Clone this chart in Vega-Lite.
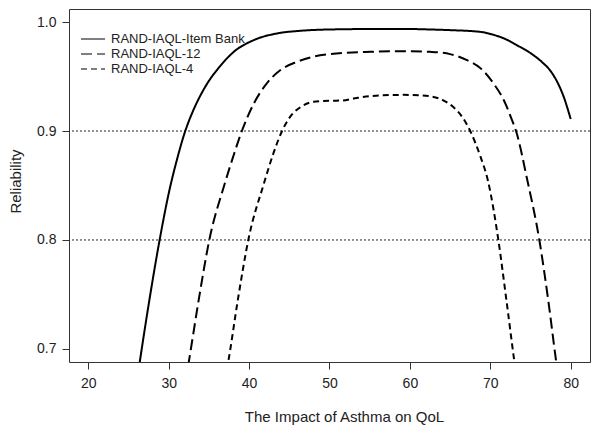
{
  "$schema": "https://vega.github.io/schema/vega-lite/v6.json",
  "width": 521,
  "height": 353,
  "autosize": {"type": "none"},
  "padding": {"left": 69, "top": 9, "right": 10, "bottom": 71},
  "background": "white",
  "config": {
    "view": {"stroke": "#333", "strokeWidth": 1},
    "font": "Liberation Sans",
    "axis": {"grid": false, "domain": false, "tickColor": "#333", "tickSize": 7, "labelFont": "Liberation Sans", "labelFontSize": 14, "labelColor": "#222", "titleFont": "Liberation Sans", "titleFontSize": 15, "titleFontWeight": "normal", "titleColor": "#222"}
  },
  "datasets": {
    "refs": [{"r": 0.8}, {"r": 0.9}],
    "curves": [
      {"series": "RAND-IAQL-Item Bank", "x": 26.0, "y": 0.668},
      {"series": "RAND-IAQL-Item Bank", "x": 26.4, "y": 0.688},
      {"series": "RAND-IAQL-Item Bank", "x": 27.6, "y": 0.745},
      {"series": "RAND-IAQL-Item Bank", "x": 28.87, "y": 0.8},
      {"series": "RAND-IAQL-Item Bank", "x": 30.1, "y": 0.846},
      {"series": "RAND-IAQL-Item Bank", "x": 31.0, "y": 0.873},
      {"series": "RAND-IAQL-Item Bank", "x": 32.06, "y": 0.9},
      {"series": "RAND-IAQL-Item Bank", "x": 33.0, "y": 0.918},
      {"series": "RAND-IAQL-Item Bank", "x": 33.9, "y": 0.932},
      {"series": "RAND-IAQL-Item Bank", "x": 35.0, "y": 0.946},
      {"series": "RAND-IAQL-Item Bank", "x": 36.0, "y": 0.956},
      {"series": "RAND-IAQL-Item Bank", "x": 38.1, "y": 0.9727},
      {"series": "RAND-IAQL-Item Bank", "x": 40.6, "y": 0.9835},
      {"series": "RAND-IAQL-Item Bank", "x": 43.5, "y": 0.9896},
      {"series": "RAND-IAQL-Item Bank", "x": 46.4, "y": 0.992},
      {"series": "RAND-IAQL-Item Bank", "x": 50.0, "y": 0.9932},
      {"series": "RAND-IAQL-Item Bank", "x": 55.0, "y": 0.9936},
      {"series": "RAND-IAQL-Item Bank", "x": 60.0, "y": 0.9936},
      {"series": "RAND-IAQL-Item Bank", "x": 62.5, "y": 0.9932},
      {"series": "RAND-IAQL-Item Bank", "x": 65.0, "y": 0.9926},
      {"series": "RAND-IAQL-Item Bank", "x": 68.8, "y": 0.991},
      {"series": "RAND-IAQL-Item Bank", "x": 70.3, "y": 0.9885},
      {"series": "RAND-IAQL-Item Bank", "x": 71.7, "y": 0.985},
      {"series": "RAND-IAQL-Item Bank", "x": 73.5, "y": 0.978},
      {"series": "RAND-IAQL-Item Bank", "x": 75.2, "y": 0.9705},
      {"series": "RAND-IAQL-Item Bank", "x": 76.4, "y": 0.9635},
      {"series": "RAND-IAQL-Item Bank", "x": 77.5, "y": 0.955},
      {"series": "RAND-IAQL-Item Bank", "x": 78.4, "y": 0.944},
      {"series": "RAND-IAQL-Item Bank", "x": 79.1, "y": 0.932},
      {"series": "RAND-IAQL-Item Bank", "x": 80.0, "y": 0.911},
      {"series": "RAND-IAQL-12", "x": 32.1, "y": 0.67},
      {"series": "RAND-IAQL-12", "x": 32.5, "y": 0.688},
      {"series": "RAND-IAQL-12", "x": 33.8, "y": 0.748},
      {"series": "RAND-IAQL-12", "x": 35.05, "y": 0.8},
      {"series": "RAND-IAQL-12", "x": 36.9, "y": 0.85},
      {"series": "RAND-IAQL-12", "x": 38.0, "y": 0.876},
      {"series": "RAND-IAQL-12", "x": 39.1, "y": 0.9},
      {"series": "RAND-IAQL-12", "x": 40.6, "y": 0.9254},
      {"series": "RAND-IAQL-12", "x": 42.2, "y": 0.9437},
      {"series": "RAND-IAQL-12", "x": 43.9, "y": 0.956},
      {"series": "RAND-IAQL-12", "x": 46.0, "y": 0.9636},
      {"series": "RAND-IAQL-12", "x": 48.0, "y": 0.9682},
      {"series": "RAND-IAQL-12", "x": 50.1, "y": 0.9706},
      {"series": "RAND-IAQL-12", "x": 55.1, "y": 0.9727},
      {"series": "RAND-IAQL-12", "x": 60.0, "y": 0.9733},
      {"series": "RAND-IAQL-12", "x": 62.5, "y": 0.9727},
      {"series": "RAND-IAQL-12", "x": 65.0, "y": 0.9706},
      {"series": "RAND-IAQL-12", "x": 67.1, "y": 0.965},
      {"series": "RAND-IAQL-12", "x": 68.8, "y": 0.9575},
      {"series": "RAND-IAQL-12", "x": 70.4, "y": 0.9437},
      {"series": "RAND-IAQL-12", "x": 71.7, "y": 0.928},
      {"series": "RAND-IAQL-12", "x": 72.7, "y": 0.91},
      {"series": "RAND-IAQL-12", "x": 73.2, "y": 0.9},
      {"series": "RAND-IAQL-12", "x": 74.6, "y": 0.855},
      {"series": "RAND-IAQL-12", "x": 76.1, "y": 0.8},
      {"series": "RAND-IAQL-12", "x": 77.2, "y": 0.745},
      {"series": "RAND-IAQL-12", "x": 78.2, "y": 0.688},
      {"series": "RAND-IAQL-12", "x": 78.5, "y": 0.672},
      {"series": "RAND-IAQL-4", "x": 37.0, "y": 0.672},
      {"series": "RAND-IAQL-4", "x": 37.4, "y": 0.688},
      {"series": "RAND-IAQL-4", "x": 38.6, "y": 0.745},
      {"series": "RAND-IAQL-4", "x": 39.9, "y": 0.8},
      {"series": "RAND-IAQL-4", "x": 41.85, "y": 0.852},
      {"series": "RAND-IAQL-4", "x": 43.0, "y": 0.879},
      {"series": "RAND-IAQL-4", "x": 44.1, "y": 0.9},
      {"series": "RAND-IAQL-4", "x": 45.1, "y": 0.913},
      {"series": "RAND-IAQL-4", "x": 46.4, "y": 0.922},
      {"series": "RAND-IAQL-4", "x": 48.0, "y": 0.9268},
      {"series": "RAND-IAQL-4", "x": 50.1, "y": 0.9278},
      {"series": "RAND-IAQL-4", "x": 51.5, "y": 0.928},
      {"series": "RAND-IAQL-4", "x": 53.0, "y": 0.9298},
      {"series": "RAND-IAQL-4", "x": 55.1, "y": 0.932},
      {"series": "RAND-IAQL-4", "x": 59.2, "y": 0.9332},
      {"series": "RAND-IAQL-4", "x": 61.3, "y": 0.9328},
      {"series": "RAND-IAQL-4", "x": 62.5, "y": 0.932},
      {"series": "RAND-IAQL-4", "x": 64.2, "y": 0.928},
      {"series": "RAND-IAQL-4", "x": 65.4, "y": 0.922},
      {"series": "RAND-IAQL-4", "x": 66.5, "y": 0.913},
      {"series": "RAND-IAQL-4", "x": 67.5, "y": 0.9},
      {"series": "RAND-IAQL-4", "x": 68.8, "y": 0.876},
      {"series": "RAND-IAQL-4", "x": 69.7, "y": 0.8546},
      {"series": "RAND-IAQL-4", "x": 71.0, "y": 0.8},
      {"series": "RAND-IAQL-4", "x": 72.0, "y": 0.745},
      {"series": "RAND-IAQL-4", "x": 73.0, "y": 0.688},
      {"series": "RAND-IAQL-4", "x": 73.3, "y": 0.672}
    ]
  },
  "layer": [
    {
      "data": {"name": "refs"},
      "mark": {"type": "rule", "strokeDash": [2, 2], "strokeWidth": 1, "color": "#222"},
      "encoding": {
        "y": {"field": "r", "type": "quantitative", "scale": {"domain": [0.688, 1.012], "nice": false, "zero": false}}
      }
    },
    {
      "data": {"name": "curves"},
      "mark": {"type": "line", "clip": true, "strokeWidth": 2, "color": "black", "interpolate": "monotone"},
      "encoding": {
        "x": {
          "field": "x", "type": "quantitative",
          "scale": {"domain": [17.6, 82.4], "nice": false, "zero": false},
          "axis": {"values": [20, 30, 40, 50, 60, 70, 80], "labelPadding": 7, "title": "The Impact of Asthma on QoL", "titleX": 275, "titleY": 59, "titleBaseline": "alphabetic", "titleAlign": "center", "titleAnchor": null}
        },
        "y": {
          "field": "y", "type": "quantitative",
          "scale": {"domain": [0.688, 1.012], "nice": false, "zero": false},
          "axis": {"values": [0.7, 0.8, 0.9, 1.0], "format": ".1f", "labelPadding": 6, "title": "Reliability", "titleX": -46, "titleY": 172, "titleBaseline": "bottom", "titleAlign": "center", "titleAnchor": null}
        },
        "strokeDash": {
          "field": "series", "type": "nominal",
          "scale": {"domain": ["RAND-IAQL-Item Bank", "RAND-IAQL-12", "RAND-IAQL-4"], "range": [[1, 0], [11, 5], [6, 4]]},
          "legend": {
            "title": null, "orient": "none", "legendX": 17, "legendY": 23, "padding": 0, "offset": 0,
            "symbolType": "M-2,0H2", "symbolSize": 144, "symbolStrokeWidth": 1.2, "symbolStrokeColor": "black", "symbolFillColor": "transparent",
            "labelFont": "Liberation Sans", "labelFontSize": 13, "labelColor": "#222", "labelOffset": 11, "rowPadding": 1
          }
        }
      }
    }
  ]
}
